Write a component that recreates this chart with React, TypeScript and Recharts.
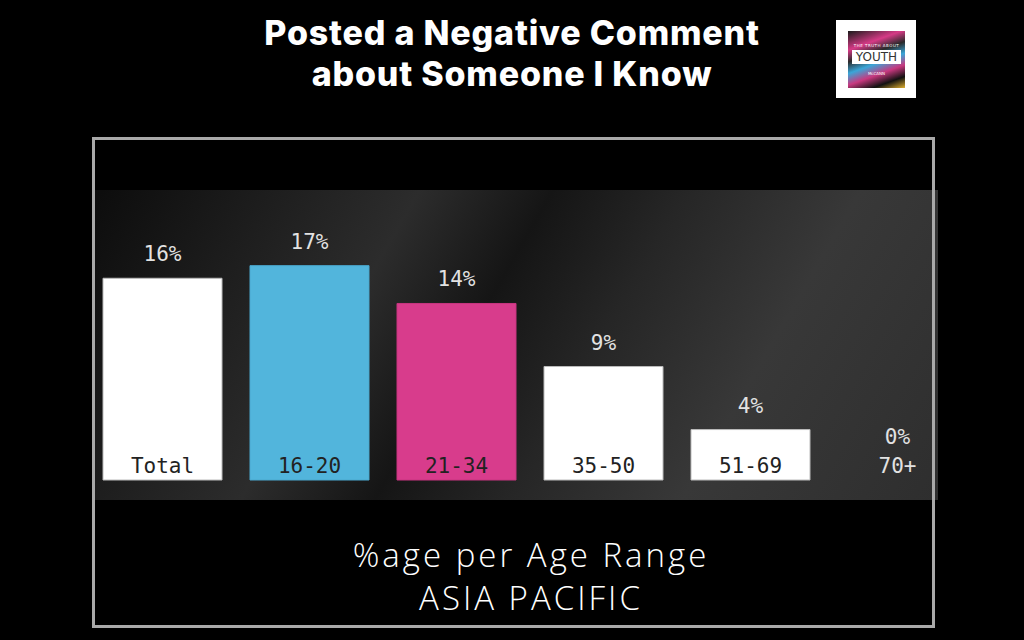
import { BarChart, Bar, XAxis, YAxis, Cell, LabelList } from 'recharts';

const categories = ['Total', '16-20', '21-34', '35-50', '51-69', '70+'];
const shares = [16, 17, 14, 9, 4, 0];
const barColors = ['#ffffff', '#52b5dc', '#d83c8c', '#ffffff', '#ffffff', '#ffffff'];
const barEdges = ['#bbbbbb', '#4aa8cf', '#c83580', '#bbbbbb', '#bbbbbb', '#bbbbbb'];

const data = categories.map((name, i) => ({ name, value: shares[i] }));

const mono = '"DejaVu Sans Mono", "Liberation Mono", monospace';

// percent label above each bar
const ValueLabel = (props: any) => {
    const { x, y, width, value } = props;
    if (!value) return null;
    return (
        <text x={x + width / 2} y={y - 17} textAnchor="middle" fill="#e2e2e2" fontFamily={mono} fontSize={21}>
            {`${value}%`}
        </text>
    );
};

// category name drawn up inside the foot of the bar; the empty 70+ column
// gets light text and its 0% above the name
const NameTick = (props: any) => {
    const { x, y, index } = props;
    const empty = shares[index] === 0;
    return (
        <g>
            <text x={x} y={y - 15} textAnchor="middle" fill={empty ? '#e2e2e2' : '#222222'} fontFamily={mono} fontSize={21}>
                {categories[index]}
            </text>
            {empty && (
                <text x={x} y={y - 44} textAnchor="middle" fill="#e2e2e2" fontFamily={mono} fontSize={21}>
                    {`${shares[index]}%`}
                </text>
            )}
        </g>
    );
};

const Logo = () => (
    <div style={{ position: 'absolute', left: 836, top: 20, width: 80, height: 78, background: '#fff' }}>
        <div
            style={{
                position: 'absolute',
                left: 12,
                top: 11,
                width: 57,
                height: 57,
                background:
                    'linear-gradient(160deg, #1a1a1a 0%, #d63a86 25%, #2a2a2a 40%, #3aa6d8 55%, #c8387f 70%, #111 85%, #e0b030 100%)',
                overflow: 'hidden'
            }}
        >
            <div style={{ position: 'absolute', top: 12, width: '100%', textAlign: 'center', color: '#fff', fontSize: 4, fontFamily: 'DejaVu Sans', letterSpacing: 0.5 }}>
                THE TRUTH ABOUT
            </div>
            <div
                style={{
                    position: 'absolute',
                    top: 19,
                    left: 4,
                    right: 4,
                    background: '#fff',
                    color: '#333',
                    textAlign: 'center',
                    fontFamily: 'DejaVu Sans',
                    fontSize: 12,
                    lineHeight: '14px'
                }}
            >
                YOUTH
            </div>
            <div style={{ position: 'absolute', top: 40, width: '100%', textAlign: 'center', color: '#fff', fontSize: 4, fontFamily: 'DejaVu Sans' }}>
                McCANN
            </div>
        </div>
    </div>
);

const App = () => {
    return (
        <div style={{ position: 'fixed', left: 0, top: 0, width: 1024, height: 640, background: '#000', overflow: 'hidden' }}>
            <div
                style={{
                    position: 'absolute',
                    top: 12,
                    width: 1024,
                    textAlign: 'center',
                    color: '#fff',
                    fontFamily: 'Inter, "Noto Sans", sans-serif',
                    fontWeight: 800,
                    fontSize: 34,
                    lineHeight: '41px',
                    letterSpacing: 0.8
                }}
            >
                Posted a Negative Comment
                <br />
                about Someone I Know
            </div>
            <Logo />

            {/* textured band behind the bars */}
            <div
                style={{
                    position: 'absolute',
                    left: 92,
                    top: 190,
                    width: 846,
                    height: 310,
                    background:
                        'linear-gradient(120deg, #0c0c0c 0%, #1e1e1e 18%, #2c2c2c 32%, #151515 45%, #262626 58%, #383838 75%, #2e2e2e 100%)'
                }}
            />

            <div style={{ position: 'absolute', left: 89, top: 190 }}>
                <BarChart width={882} height={310} data={data} margin={{ top: 0, right: 0, bottom: 0, left: 0 }}>
                    <XAxis dataKey="name" height={20} axisLine={false} tickLine={false} interval={0} tick={<NameTick />} />
                    <YAxis hide domain={[0, 23]} />
                    <Bar dataKey="value" barSize={119} isAnimationActive={false} strokeWidth={1}>
                        {data.map((d, i) => (
                            <Cell key={d.name} fill={barColors[i]} stroke={barEdges[i]} />
                        ))}
                        <LabelList dataKey="value" content={<ValueLabel />} />
                    </Bar>
                </BarChart>
            </div>

            {/* frame */}
            <div
                style={{
                    position: 'absolute',
                    left: 92,
                    top: 137,
                    width: 837,
                    height: 485,
                    border: '3px solid #a9a9a9'
                }}
            />

            <div
                style={{
                    position: 'absolute',
                    left: 0,
                    top: 533,
                    width: 1062,
                    textAlign: 'center',
                    color: '#fff',
                    fontFamily: '"Open Sans", Lato, sans-serif',
                    fontWeight: 300,
                    fontSize: 33,
                    lineHeight: '43px',
                    letterSpacing: 3
                }}
            >
                %age per Age Range
                <br />
                ASIA PACIFIC
            </div>
        </div>
    );
};

export default App;
